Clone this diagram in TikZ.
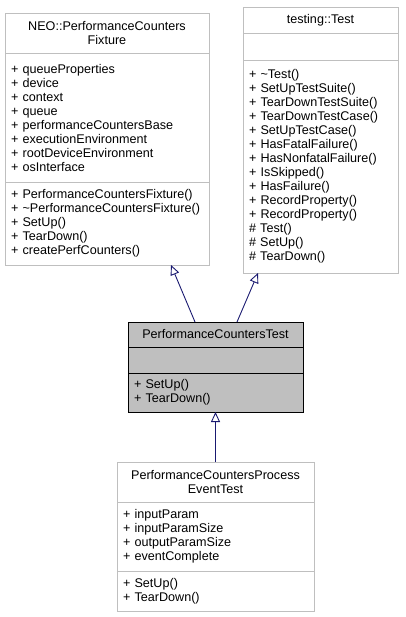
\documentclass[tikz,border=0pt]{standalone}
\usepackage{fontspec}
\setmainfont{Liberation Sans}
\usetikzlibrary{arrows.meta,positioning}
\definecolor{grey75}{HTML}{BFBFBF}
\definecolor{midblue}{HTML}{191970}

\begin{document}
\begin{tikzpicture}[
  x=1pt, y=-1pt,
  font=\fontsize{12.6}{14}\selectfont,
  node distance=0pt,
  part/.style={draw=grey75,fill=white,inner xsep=6pt,inner ysep=0pt,outer sep=0pt},
  head/.style={part,align=center},
  memb/.style={part,align=left},
  cur/.style={draw=black,fill=grey75},
  inh/.style={-{Triangle[open,length=10pt,width=9pt]},draw=midblue,line width=0.9pt}
]
\useasboundingbox (0,0) rectangle (405,617);
\node[head,text width=192pt,minimum height=40pt] (fixT) at (107,33) {NEO::PerformanceCounters\\Fixture};
\node[memb,text width=192pt,minimum height=129pt,below=of fixT] (fixA) {+ queueProperties\\+ device\\+ context\\+ queue\\+ performanceCountersBase\\+ executionEnvironment\\+ rootDeviceEnvironment\\+ osInterface};
\node[memb,text width=192pt,minimum height=83pt,below=of fixA] (fixM) {+ PerformanceCountersFixture()\\+ \textasciitilde PerformanceCountersFixture()\\+ SetUp()\\+ TearDown()\\+ createPerfCounters()};
\node[head,text width=143pt,minimum height=26pt] (tstT) at (320.5,20) {testing::Test};
\node[memb,text width=143pt,minimum height=27pt,below=of tstT] (tstA) {};
\node[memb,text width=143pt,minimum height=213pt,below=of tstA] (tstM) {+ \textasciitilde Test()\\+ SetUpTestSuite()\\+ TearDownTestSuite()\\+ TearDownTestCase()\\+ SetUpTestCase()\\+ HasFatalFailure()\\+ HasNonfatalFailure()\\+ IsSkipped()\\+ HasFailure()\\+ RecordProperty()\\+ RecordProperty()\\\# Test()\\\# SetUp()\\\# TearDown()};
\node[head,cur,text width=163pt,minimum height=25pt] (testT) at (215.5,334.5) {PerformanceCountersTest};
\node[memb,cur,text width=163pt,minimum height=26pt,below=of testT] (testA) {};
\node[memb,cur,text width=163pt,minimum height=39pt,below=of testA] (testM) {+ SetUp()\\+ TearDown()};
\node[head,text width=185pt,minimum height=40pt] (evtT) at (215.5,482) {PerformanceCountersProcess\\EventTest};
\node[memb,text width=185pt,minimum height=69pt,below=of evtT] (evtA) {+ inputParam\\+ inputParamSize\\+ outputParamSize\\+ eventComplete};
\node[memb,text width=185pt,minimum height=40pt,below=of evtA] (evtM) {+ SetUp()\\+ TearDown()};
\draw[inh] ([xshift=-20.5pt]testT.north) -- ([xshift=64pt]fixM.south);
\draw[inh] ([xshift=21.5pt]testT.north) -- ([xshift=-62.5pt]tstM.south);
\draw[inh] (evtT) -- (testM);
\end{tikzpicture}
\end{document}
